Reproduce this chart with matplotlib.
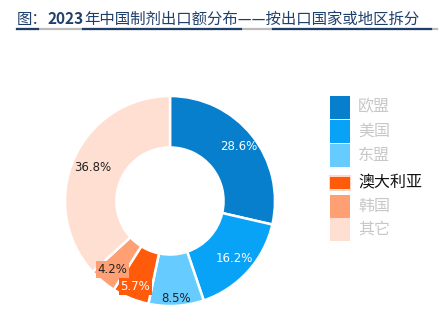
import matplotlib
matplotlib.use("Agg")
import matplotlib.pyplot as plt
import numpy as np
from matplotlib.patches import Rectangle
from matplotlib.lines import Line2D

plt.rcParams['font.family'] = ['Noto Sans CJK SC', 'DejaVu Sans']

categories = ['欧盟', '美国', '东盟', '澳大利亚', '韩国', '其它']
values = [28.6, 16.2, 8.5, 5.7, 4.2, 36.8]
colors = ['#077FCC', '#08A3F7', '#66CCFF', '#FF5B0A', '#FFA074', '#FFDFD2']
label_colors = ['white', 'white', '#222222', 'white', '#222222', '#222222']
label_dist = [0.84, 0.82, 0.93, 0.88, 0.85, 0.80]
label_bbox = [None, None, None, '#FF5B0A', '#FFA074', None]
highlight = '澳大利亚'
title_parts = [('图：', 'normal'), ('2023', 'bold'), ('年中国制剂出口额分布——按出口国家或地区拆分', 'normal')]

W, H = 448, 333
fig = plt.figure(figsize=(W / 100, H / 100), dpi=100)

# pie axes: center (170, 201), radius 105 px
cx, cy, R = 170, 201, 105
ax = fig.add_axes([(cx - R) / W, (H - cy - R) / H, 2 * R / W, 2 * R / H])

wedges, _ = ax.pie(values, colors=colors, startangle=90, counterclock=False, radius=1.0,
                   wedgeprops=dict(width=0.49, edgecolor='white', linewidth=1.8))
ax.set_xlim(-1, 1)
ax.set_ylim(-1, 1)
ax.axis('off')

cum = np.cumsum([0] + values[:-1])
for v, c0, lc, d, bb in zip(values, cum, label_colors, label_dist, label_bbox):
    ang = np.deg2rad(90 - (c0 + v / 2) * 3.6)
    x, y = d * np.cos(ang), d * np.sin(ang)
    kw = {}
    if bb:
        kw['bbox'] = dict(boxstyle='square,pad=0.15', fc=bb, ec='none')
    ax.text(x, y, f'{v:.1f}%', ha='center', va='center', color=lc, fontsize=8.5,
            family='DejaVu Sans', **kw)

# legend
leg_y = [107, 131, 155, 183, 206, 229]
for cat, col, ly in zip(categories, colors, leg_y):
    if cat == highlight:
        fig.patches.append(Rectangle((329 / W, (H - ly - 8) / H), 22 / W, 16 / H,
                                     transform=fig.transFigure, fc='#FFD9C4', ec='none'))
        fig.patches.append(Rectangle((330 / W, (H - ly - 6) / H), 20 / W, 12 / H,
                                     transform=fig.transFigure, fc=col, ec='none'))
        tc = '#111111'
    else:
        fig.patches.append(Rectangle((330 / W, (H - ly - 11.5) / H), 20 / W, 23 / H,
                                     transform=fig.transFigure, fc=col, ec='none'))
        tc = '#C8C8C8'
    fig.text(358 / W, (H - ly) / H, cat, ha='left', va='center', fontsize=11.5, color=tc)

# title
navy = '#1F3F6B'
fs_title = 11.1
t = fig.text(17 / W, (H - 24) / H, title_parts[0][0], fontsize=fs_title, color=navy,
             fontweight=title_parts[0][1], va='baseline')
others = []
for txt, wt in title_parts[1:]:
    others.append(fig.text(0, (H - 24) / H, txt, fontsize=fs_title, color=navy,
                           fontweight=wt, va='baseline'))
fig.canvas.draw()
r = fig.canvas.get_renderer()
x_px = t.get_window_extent(r).x1
for artist in others:
    artist.set_position((x_px / W, (H - 24) / H))
    fig.canvas.draw()
    x_px = artist.get_window_extent(r).x1

# underline: grey base, navy under text
ly = (H - 29) / H
fig.add_artist(Line2D([17 / W, 437 / W], [ly, ly], color='#BBBBBB', lw=1.6, transform=fig.transFigure))
for a, b in [(17, 38), (83, 241), (273, 431)]:
    fig.add_artist(Line2D([a / W, b / W], [ly, ly], color=navy, lw=1.6, transform=fig.transFigure))

fig.savefig('out.png', dpi=100)
